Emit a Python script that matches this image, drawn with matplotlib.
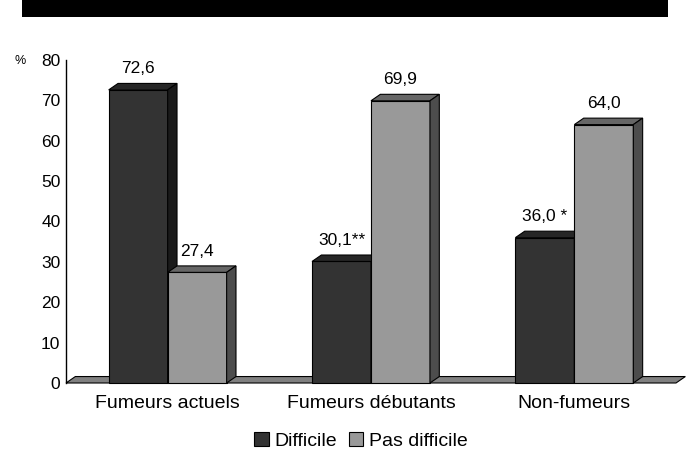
import matplotlib
matplotlib.use('Agg')

import matplotlib.pyplot as plt
from matplotlib.patches import Polygon, Rectangle, Patch

plt.rcParams['font.family'] = ['Liberation Sans', 'DejaVu Sans']

# data
categories = ['Fumeurs actuels', 'Fumeurs débutants', 'Non-fumeurs']
difficile = [72.6, 30.1, 36.0]
pas_difficile = [27.4, 69.9, 64.0]
difficile_marks = ['', '**', ' *']
pas_difficile_marks = ['', '', '']
series_names = ['Difficile', 'Pas difficile']
yticks = [0, 10, 20, 30, 40, 50, 60, 70, 80]

# face colours: front, top, side
dark = ('#333333', '#262626', '#1a1a1a')
light = ('#999999', '#666666', '#4d4d4d')
floor_color = '#808080'

W, H = 688, 468
fig = plt.figure(figsize=(W / 100, H / 100), dpi=100)
ax = fig.add_axes([66 / W, (H - 383) / H, 610 / W, 323 / H])
ax.set_xlim(0, 3)
ax.set_ylim(0, 80)

bw = 0.29     # bar width (category units)
dx = 0.046    # depth offset in x
dy = 1.6      # depth offset in y (percent units)
lw = 0.8


def box(x0, x1, v, colors):
    front, top, side = colors
    ax.add_patch(Polygon([(x0, 0), (x1, 0), (x1, v), (x0, v)], closed=True,
                         facecolor=front, edgecolor='black', lw=lw, clip_on=False))
    ax.add_patch(Polygon([(x0, v), (x1, v), (x1 + dx, v + dy), (x0 + dx, v + dy)], closed=True,
                         facecolor=top, edgecolor='black', lw=lw, clip_on=False))
    ax.add_patch(Polygon([(x1, 0), (x1 + dx, dy), (x1 + dx, v + dy), (x1, v)], closed=True,
                         facecolor=side, edgecolor='black', lw=lw, clip_on=False))


# floor
ax.add_patch(Polygon([(0, 0), (3, 0), (3 + dx, dy), (dx, dy)], closed=True,
                     facecolor=floor_color, edgecolor='black', lw=lw, clip_on=False))

for i, cat in enumerate(categories):
    c = i + 0.5
    box(c - bw, c, difficile[i], dark)
    box(c, c + bw, pas_difficile[i], light)
    lab1 = f'{difficile[i]:.1f}'.replace('.', ',') + difficile_marks[i]
    lab2 = f'{pas_difficile[i]:.1f}'.replace('.', ',') + pas_difficile_marks[i]
    ax.text(c - bw / 2, difficile[i] + 5.2, lab1, ha='center', va='center', fontsize=12.5)
    ax.text(c + bw / 2, pas_difficile[i] + 5.2, lab2, ha='center', va='center', fontsize=12.5)

for s in ['top', 'right', 'bottom']:
    ax.spines[s].set_visible(False)
ax.spines['left'].set_linewidth(1)
ax.set_yticks(yticks)
ax.set_yticklabels([str(t) for t in yticks], fontsize=12.5)
ax.set_xticks([i + 0.5 for i in range(len(categories))])
ax.set_xticklabels(categories, fontsize=14)
ax.tick_params(axis='y', length=0, pad=4)
ax.tick_params(axis='x', length=0, pad=9)

fig.text(20 / W, 1 - 61 / H, '%', fontsize=9, ha='center', va='center')

# black band on top
fig.add_artist(Rectangle((22 / W, 1 - 17 / H), 646 / W, 17 / H, transform=fig.transFigure,
                         facecolor='black', edgecolor='none'))

handles = [Patch(facecolor=dark[0], edgecolor='black', lw=0.8),
           Patch(facecolor=light[0], edgecolor='black', lw=0.8)]
fig.legend(handles, series_names, loc='center', bbox_to_anchor=(361 / W, 1 - 441 / H),
           ncol=2, frameon=False, fontsize=14, handlelength=0.75, handleheight=0.75,
           handletextpad=0.3, columnspacing=0.6)

fig.savefig('out.png', dpi=100)
